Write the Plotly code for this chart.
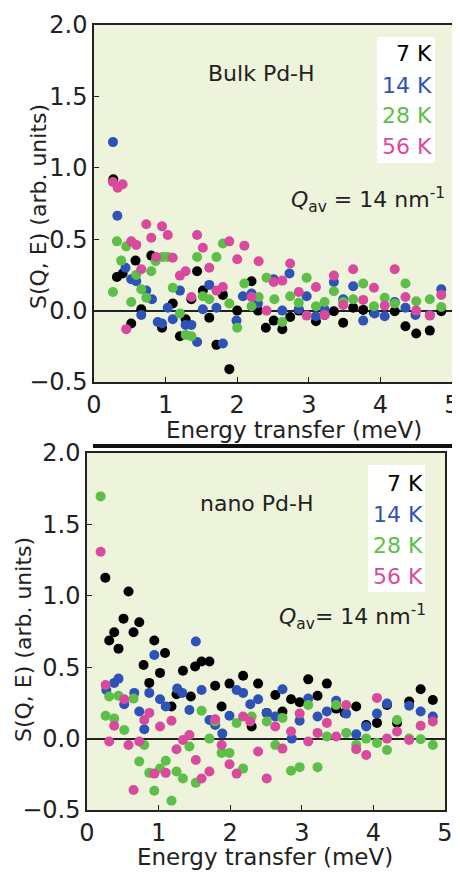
import plotly.graph_objects as go

# ---------------- data: Bulk Pd-H (top panel) ----------------
bulk_7K_E = [0.27, 0.32, 0.40, 0.52, 0.58, 0.66, 0.80, 0.95, 1.10, 1.20, 1.28, 1.36, 1.44, 1.52, 1.61, 1.71, 1.80, 1.89, 2.00, 2.20, 2.29, 2.40, 2.51, 2.63, 2.74, 2.86, 3.10, 3.22, 3.35, 3.48, 3.62, 3.76, 3.91, 4.20, 4.35, 4.50, 4.69, 4.85]
bulk_7K_S = [0.92, 0.235, 0.26, -0.09, 0.35, 0.01, 0.385, -0.12, 0.05, -0.18, -0.06, 0.08, 0.275, 0.14, -0.05, -0.24, 0.11, -0.41, 0.00, 0.205, 0.00, -0.12, -0.07, -0.13, -0.045, 0.00, -0.075, -0.03, -0.005, -0.085, 0.02, 0.005, -0.015, -0.005, -0.11, -0.16, -0.14, -0.005]

bulk_14K_E = [0.265, 0.326, 0.44, 0.52, 0.59, 0.66, 0.73, 0.81, 0.89, 0.95, 1.03, 1.10, 1.20, 1.28, 1.36, 1.44, 1.52, 1.61, 1.71, 1.80, 1.99, 2.08, 2.20, 2.29, 2.51, 2.63, 2.73, 2.86, 2.97, 3.10, 3.22, 3.35, 3.48, 3.62, 3.76, 3.92, 4.06, 4.20, 4.35, 4.49, 4.69, 4.85]
bulk_14K_S = [1.18, 0.664, 0.30, 0.22, 0.205, -0.03, 0.14, 0.08, -0.08, -0.09, 0.02, -0.06, 0.14, -0.10, -0.10, -0.22, 0.01, 0.18, 0.02, -0.23, -0.07, 0.10, 0.12, 0.05, 0.22, 0.00, 0.26, 0.01, 0.10, -0.04, 0.01, 0.20, 0.08, 0.17, -0.07, -0.02, -0.04, 0.06, 0.02, -0.03, -0.03, 0.15]

bulk_28K_E = [0.265, 0.32, 0.38, 0.45, 0.52, 0.59, 0.66, 0.73, 0.80, 0.86, 0.96, 1.03, 1.10, 1.20, 1.28, 1.36, 1.44, 1.52, 1.61, 1.71, 1.80, 1.89, 2.00, 2.10, 2.20, 2.30, 2.41, 2.52, 2.63, 2.74, 2.86, 2.97, 3.10, 3.22, 3.35, 3.48, 3.62, 3.76, 3.91, 4.06, 4.20, 4.35, 4.50, 4.69, 4.85]
bulk_28K_S = [0.13, 0.485, 0.35, 0.45, 0.06, 0.25, 0.15, 0.09, 0.275, 0.345, 0.375, 0.375, 0.16, -0.02, -0.17, -0.18, 0.375, 0.10, 0.08, 0.375, 0.47, 0.05, -0.12, 0.19, 0.03, 0.095, 0.23, 0.08, -0.08, 0.10, 0.055, 0.23, 0.03, 0.06, 0.135, 0.06, 0.08, 0.19, 0.03, 0.09, 0.05, 0.19, 0.065, 0.08, 0.025]

bulk_56K_E = [0.265, 0.33, 0.40, 0.45, 0.52, 0.59, 0.66, 0.73, 0.80, 0.87, 0.95, 1.03, 1.10, 1.20, 1.28, 1.36, 1.44, 1.52, 1.61, 1.71, 1.80, 1.89, 2.00, 2.10, 2.20, 2.30, 2.41, 2.51, 2.63, 2.74, 2.86, 2.97, 3.10, 3.22, 3.35, 3.48, 3.62, 3.76, 3.91, 4.06, 4.20, 4.35, 4.50, 4.69, 4.85]
bulk_56K_S = [0.90, 0.86, 0.885, -0.13, 0.485, 0.46, 0.29, 0.605, 0.51, 0.375, 0.59, 0.53, 0.37, 0.245, 0.275, 0.095, 0.53, 0.44, 0.30, 0.14, 0.165, 0.485, 0.36, 0.455, 0.095, 0.345, 0.00, 0.20, 0.21, 0.33, 0.13, -0.035, 0.165, -0.03, 0.245, 0.04, 0.29, 0.075, 0.16, 0.035, 0.29, 0.095, 0.00, -0.035, 0.11]

# ---------------- data: nano Pd-H (bottom panel) ----------------
nano_7K_E = [0.256, 0.31, 0.38, 0.44, 0.51, 0.58, 0.65, 0.73, 0.79, 0.87, 0.94, 1.02, 1.09, 1.18, 1.25, 1.34, 1.45, 1.51, 1.60, 1.71, 1.79, 1.88, 1.99, 2.18, 2.30, 2.39, 2.51, 2.63, 2.73, 2.85, 2.97, 3.09, 3.22, 3.35, 3.48, 3.60, 3.76, 3.90, 4.05, 4.19, 4.33, 4.50, 4.66, 4.83]
nano_7K_S = [1.126, 0.687, 0.745, 0.63, 0.84, 1.03, 0.745, 0.815, 0.515, 0.39, 0.687, 0.46, 0.60, 0.225, 0.31, 0.475, 0.295, 0.505, 0.54, 0.54, 0.37, 0.225, 0.385, 0.44, 0.085, 0.385, 0.18, 0.305, 0.19, 0.275, 0.255, 0.415, 0.30, 0.385, 0.21, 0.18, 0.225, 0.095, 0.11, 0.235, 0.11, 0.26, 0.345, 0.27]

nano_14K_E = [0.27, 0.38, 0.44, 0.52, 0.66, 0.73, 0.80, 0.87, 0.94, 1.02, 1.10, 1.26, 1.33, 1.43, 1.52, 1.60, 1.71, 1.79, 1.89, 1.99, 2.09, 2.18, 2.28, 2.39, 2.51, 2.63, 2.73, 2.86, 2.97, 3.09, 3.22, 3.35, 3.48, 3.62, 3.76, 3.90, 4.05, 4.19, 4.50, 4.66, 4.83]
nano_14K_S = [0.34, 0.39, 0.42, 0.24, 0.32, 0.19, 0.065, 0.32, 0.585, 0.275, 0.225, 0.35, 0.32, 0.20, 0.68, 0.34, 0.13, 0.095, 0.035, 0.16, 0.34, 0.32, 0.24, 0.275, 0.18, 0.155, 0.345, 0.00, 0.125, 0.28, 0.155, 0.19, 0.265, 0.175, 0.03, 0.085, 0.175, 0.245, 0.23, 0.19, 0.155]

nano_28K_E = [0.19, 0.26, 0.31, 0.38, 0.44, 0.52, 0.65, 0.73, 0.80, 0.87, 0.94, 1.02, 1.10, 1.18, 1.25, 1.34, 1.43, 1.52, 1.60, 1.71, 1.79, 1.88, 1.99, 2.09, 2.18, 2.30, 2.51, 2.63, 2.73, 2.85, 2.97, 3.09, 3.22, 3.35, 3.48, 3.62, 3.76, 3.90, 4.05, 4.19, 4.33, 4.50, 4.66, 4.83]
nano_28K_S = [1.696, 0.16, 0.295, 0.14, 0.30, 0.06, 0.28, -0.16, -0.045, -0.24, -0.365, -0.21, -0.155, -0.435, -0.23, -0.28, -0.055, -0.31, 0.195, 0.00, 0.12, -0.10, -0.10, 0.11, -0.21, 0.155, 0.12, -0.045, 0.145, -0.225, -0.20, 0.235, -0.20, 0.015, 0.235, 0.04, -0.045, 0.00, -0.03, -0.08, 0.13, 0.00, -0.005, -0.045]

nano_56K_E = [0.19, 0.26, 0.31, 0.38, 0.52, 0.58, 0.65, 0.73, 0.80, 0.87, 0.94, 1.02, 1.10, 1.18, 1.25, 1.34, 1.43, 1.52, 1.60, 1.71, 1.79, 1.88, 1.99, 2.09, 2.18, 2.28, 2.39, 2.51, 2.63, 2.73, 2.85, 2.97, 3.09, 3.22, 3.35, 3.48, 3.62, 3.76, 3.90, 4.05, 4.19, 4.33, 4.50, 4.66, 4.83]
nano_56K_S = [1.308, 0.375, -0.02, 0.09, 0.275, -0.045, -0.36, -0.02, 0.13, 0.18, -0.245, 0.085, -0.24, 0.125, -0.075, -0.01, 0.025, -0.15, -0.28, -0.23, 0.135, -0.045, -0.18, -0.245, 0.155, 0.12, -0.09, -0.28, 0.085, -0.07, 0.05, 0.175, -0.02, 0.04, 0.11, 0.015, 0.235, -0.075, -0.115, 0.285, 0.00, 0.05, -0.01, 0.09, 0.12]

temps = ["7 K", "14 K", "28 K", "56 K"]
colors = ["#000000", "#2f52b6", "#5dbf47", "#d94a9e"]

# The page body has an 8 px margin, so the figure starts at (8, 8) in the window.
W, H = 452, 865
OFF = 8
def px(x):
    return (x - OFF) / W
def py(y):
    return 1 - (y - OFF) / H

FONT = "DejaVu Sans"
BG = "#eef3dc"
INK = "#222222"

fig = go.Figure()

bulk = [(bulk_7K_E, bulk_7K_S), (bulk_14K_E, bulk_14K_S), (bulk_28K_E, bulk_28K_S), (bulk_56K_E, bulk_56K_S)]
nano = [(nano_7K_E, nano_7K_S), (nano_14K_E, nano_14K_S), (nano_28K_E, nano_28K_S), (nano_56K_E, nano_56K_S)]

for (e, s), t, c in zip(bulk, temps, colors):
    fig.add_trace(go.Scatter(x=e, y=s, mode="markers", name=t, showlegend=False,
                             marker=dict(color=c, size=10, line=dict(width=0)),
                             xaxis="x", yaxis="y", cliponaxis=False))
for (e, s), t, c in zip(nano, temps, colors):
    fig.add_trace(go.Scatter(x=e, y=s, mode="markers", name=t, showlegend=False,
                             marker=dict(color=c, size=10, line=dict(width=0)),
                             xaxis="x2", yaxis="y2", cliponaxis=False))

axis_common = dict(showgrid=False, showline=True, linecolor=INK, linewidth=1.5,
                   mirror=True, ticks="inside", ticklen=5, tickcolor=INK, automargin=False,
                   tickfont=dict(family=FONT, size=24, color=INK))

fig.update_layout(
    width=W, height=H,
    margin=dict(l=0, r=0, t=0, b=0, autoexpand=False),
    paper_bgcolor="white", plot_bgcolor=BG,
    font=dict(family=FONT, color=INK),
    xaxis=dict(domain=[px(94), px(452)], range=[0, 5], dtick=1, anchor="y", **axis_common),
    yaxis=dict(domain=[py(382), py(25)], range=[-0.5, 2.0], dtick=0.5, tickformat=".1f",
               anchor="x", zeroline=True, zerolinecolor=INK, zerolinewidth=1.5, **axis_common),
    xaxis2=dict(domain=[px(87), px(445)], range=[0, 5], dtick=1, anchor="y2", **axis_common),
    yaxis2=dict(domain=[py(810), py(453)], range=[-0.5, 2.0], dtick=0.5, tickformat=".1f",
                anchor="x2", zeroline=True, zerolinecolor=INK, zerolinewidth=1.5, **axis_common),
)

annots = []
def txt(x, y, s, size, color=INK, xanchor="center", angle=0):
    annots.append(dict(x=px(x), y=py(y), xref="paper", yref="paper", text=s, showarrow=False,
                       xanchor=xanchor, yanchor="middle", textangle=angle,
                       font=dict(family=FONT, size=size, color=color)))

# axis titles
txt(294, 430, "Energy transfer (meV)", 23)
txt(265, 857, "Energy transfer (meV)", 23)
txt(38, 207, "S(Q, E) (arb. units)", 22, angle=-90)
txt(23, 640, "S(Q, E) (arb. units)", 22, angle=-90)

# panel labels
txt(261, 73, "Bulk Pd-H", 22)
txt(257, 503, "nano Pd-H", 22)
txt(447, 200, "<i>Q</i><sub>av</sub> = 14 nm<sup>-1</sup>", 22, xanchor="right")
txt(428, 617, "<i>Q</i><sub>av</sub>= 14 nm<sup>-1</sup>", 22, xanchor="right")

# legends (white boxes with coloured labels)
shapes = [
    dict(type="rect", xref="paper", yref="paper", x0=px(377), x1=px(435), y0=py(163), y1=py(37),
         fillcolor="white", line=dict(width=0), layer="below"),
    dict(type="rect", xref="paper", yref="paper", x0=px(368), x1=px(425), y0=py(592), y1=py(465),
         fillcolor="white", line=dict(width=0), layer="below"),
    dict(type="line", xref="paper", yref="paper", x0=px(93), x1=px(453), y0=py(446), y1=py(446),
         line=dict(color="#111", width=4)),
]
for i, (t, c) in enumerate(zip(temps, colors)):
    txt(434, 54 + 31 * i, t, 22, color=c, xanchor="right")
    txt(425, 483 + 31 * i, t, 22, color=c, xanchor="right")

fig.update_layout(annotations=annots, shapes=shapes)

fig.write_html("out.html")
